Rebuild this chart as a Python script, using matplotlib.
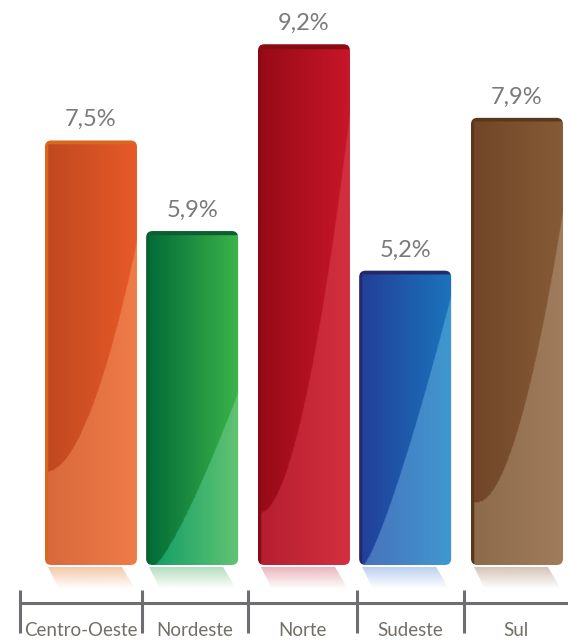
import numpy as np
import matplotlib.pyplot as plt
from matplotlib.patches import FancyBboxPatch, Polygon
from matplotlib.colors import to_rgb

regions = ["Centro-Oeste", "Nordeste", "Norte", "Sudeste", "Sul"]
values = [7.5, 5.9, 9.2, 5.2, 7.9]
labels = ["7,5%", "5,9%", "9,2%", "5,2%", "7,9%"]

# dark-left, dark-right, light-left, light-right, edge, reflection
colors = [
    ("#bf4820", "#e85a28", "#d8683c", "#ef7c48", "#d9681e", "#f2b890"),
    ("#006a38", "#3cb44a", "#0c9a66", "#62c472", "#0b5f30", "#9fd4ac"),
    ("#960a16", "#c8172a", "#b41e30", "#d4303f", "#8a0a14", "#e4a0a8"),
    ("#223e98", "#1b74bc", "#4a70bc", "#3f98d0", "#25286a", "#a8c4ec"),
    ("#6f4527", "#865c37", "#8d6a4b", "#a07c5c", "#5a381c", "#c8b4a2"),
]
# shine curve: start u, start v, v where it meets right edge, exponent
shine = [
    (0.03, 0.22, 0.77, 0.55),
    (0.10, 0.00, 0.52, 0.80),
    (0.03, 0.10, 0.88, 0.55),
    (0.05, 0.00, 0.92, 0.80),
    (0.08, 0.14, 0.80, 0.55),
]

bar_pos = [0, 0.95, 2, 2.95, 4]
tick_pos = [-0.67, 0.48, 1.47, 2.5, 3.5]

fig = plt.figure(figsize=(5.68, 6.41), dpi=100)
ax = fig.add_axes([0, 0, 1, 1])
ax.set_xlim(-0.854, 4.479)
ax.set_ylim(-1.343, 9.982)
ax.axis("off")

px_x = 1 / 106.5
px_y = 1 / 56.6
w = 92 * px_x

for i, (val, lab) in enumerate(zip(values, labels)):
    dl, dr, ll, lr, edge, refl = [np.array(to_rgb(c)) for c in colors[i]]
    u0, v0, v1, q = shine[i]
    xc = bar_pos[i]
    x0, x1 = xc - w / 2, xc + w / 2
    h_px = val / px_y

    nx, ny = 200, 400
    u = np.linspace(0, 1, nx)
    v = np.linspace(0, 1, ny)
    U, V = np.meshgrid(u, v)
    t = np.clip((U - u0) / (1 - u0), 0, 1) ** (1 / q)
    vc = v0 + (v1 - v0) * t
    dark = V >= vc
    dark_col = dl[None, None, :] * (1 - U[..., None]) + dr[None, None, :] * U[..., None]
    light_col = ll[None, None, :] * (1 - U[..., None]) + lr[None, None, :] * U[..., None]
    img = np.where(dark[..., None], dark_col, light_col)
    img[V > 1 - 4 / h_px] = edge
    img[U < 3 / 92] = edge

    patch = FancyBboxPatch((x0, 0), w, val,
                           boxstyle="round,pad=0,rounding_size=0.06",
                           mutation_aspect=px_y / px_x,
                           facecolor="none", edgecolor="none")
    ax.add_patch(patch)
    im = ax.imshow(img, extent=(x0, x1, 0, val), origin="lower",
                   aspect="auto", interpolation="bilinear", zorder=2)
    im.set_clip_path(patch)

    # reflection under the bar
    ytop, ybot = -2 * px_y, -24 * px_y
    poly = Polygon([(x0 + 3 * px_x, ytop), (x1 - 15 * px_x, ytop),
                    (x1 - 2 * px_x, ybot), (x0 + 14 * px_x, ybot)],
                   closed=True, facecolor="none", edgecolor="none")
    ax.add_patch(poly)
    ref = np.zeros((50, 1, 4))
    ref[..., :3] = refl
    ref[:, 0, 3] = np.linspace(0.8, 0.0, 50)
    rim = ax.imshow(ref, extent=(x0, x1, ybot, ytop), origin="upper",
                    aspect="auto", interpolation="bilinear", zorder=1)
    rim.set_clip_path(poly)

    ax.text(xc, val + 0.25, lab, ha="center", va="baseline",
            fontsize=17, color="#7a7a7a", family="Lato")

# axis with separators
gray = "#6d6d72"
ax_y = -38 * px_y
ax.plot([tick_pos[0], 4.479], [ax_y, ax_y], color=gray, lw=2.2,
        solid_capstyle="butt", zorder=3)
for tp in tick_pos:
    ax.plot([tp, tp], [-25 * px_y, -68 * px_y], color=gray, lw=2.2,
            solid_capstyle="butt", zorder=3)

label_x = [(tick_pos[k] + (tick_pos[k + 1] if k + 1 < len(tick_pos) else 4.479)) / 2
           for k in range(len(tick_pos))]
for lx, name in zip(label_x, regions):
    ax.text(lx, -66 * px_y, name, ha="center", va="center",
            fontsize=13.5, color="#736e67", family="Lato")

fig.savefig("out.png", dpi=100)
